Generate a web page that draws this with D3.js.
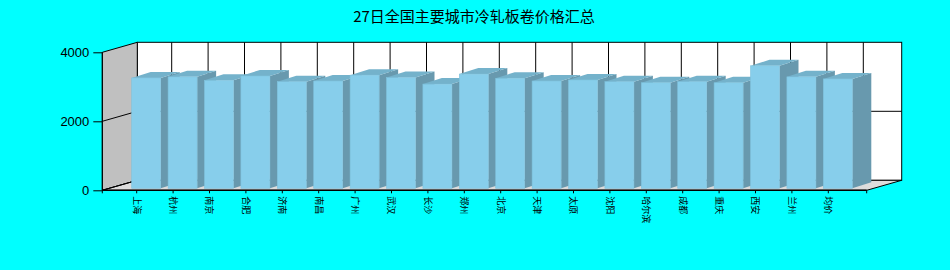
<!DOCTYPE html>
<html>
<head>
<meta charset="utf-8">
<script src="https://cdn.jsdelivr.net/npm/d3@7"></script>
<style>
  body { margin: 0; background: #00ffff; }
  svg { display: block; }
</style>
</head>
<body>
<svg id="chart" width="950" height="270"></svg>
<script>
// Chart data
var title = "27日全国主要城市冷轧板卷价格汇总";
var cities = ["上海", "杭州", "南京", "合肥", "济南", "南昌", "广州", "武汉", "长沙", "郑州",
  "北京", "天津", "太原", "沈阳", "哈尔滨", "成都", "重庆", "西安", "兰州", "均价"];
var prices = [3200, 3230, 3130, 3255, 3090, 3110, 3280, 3210, 3020, 3310,
  3190, 3110, 3140, 3090, 3060, 3090, 3060, 3550, 3230, 3170];
var yTicks = [0, 2000, 4000];

var svg = d3.select("#chart");

// Plot frame (front plane) and 3D depth offsets
var left = 102.3, right = 866.7;
var wallDx = 35, wallDy = -10;   // depth of walls
var barDx = 19, barDy = -6;      // depth of each bar
var barOffY = -2;                // bars sit a bit behind the front plane
var barW = 29;

var x = d3.scaleBand().domain(cities).range([118.5, 846.5]);
var y = d3.scaleLinear().domain([0, 4000]).range([190.3, 52.3]);

var y0 = y(0), yTop = y(4000);

// Title
svg.append("text")
  .attr("x", 474).attr("y", 22)
  .attr("text-anchor", "middle")
  .style("font-family", "'Noto Sans CJK SC', sans-serif")
  .style("font-size", "15px")
  .text(title);

// Back wall
svg.append("rect")
  .attr("x", left + wallDx).attr("y", yTop + wallDy)
  .attr("width", right - left).attr("height", y0 - yTop)
  .attr("fill", "#ffffff").attr("stroke", "#000").attr("stroke-width", 1);

// Left wall
svg.append("path")
  .attr("d", d3.line()([[left, yTop], [left + wallDx, yTop + wallDy],
    [left + wallDx, y0 + wallDy], [left, y0]]) + "Z")
  .attr("fill", "#c0c0c0").attr("stroke", "#000").attr("stroke-width", 1);

// Floor
svg.append("path")
  .attr("d", d3.line()([[left, y0], [left + wallDx, y0 + wallDy],
    [right + wallDx, y0 + wallDy], [right, y0]]) + "Z")
  .attr("fill", "#dcdcdc").attr("stroke", "#000").attr("stroke-width", 1);

// Gridlines on the walls
var grid = svg.append("g").attr("stroke", "#000").attr("stroke-width", 1);
yTicks.filter(d => d > 0 && d < 4000).forEach(function(t) {
  grid.append("line")
    .attr("x1", left + wallDx).attr("x2", right + wallDx)
    .attr("y1", y(t) + wallDy).attr("y2", y(t) + wallDy);
});
yTicks.filter(d => d < 4000).forEach(function(t) {
  grid.append("line")
    .attr("x1", left).attr("y1", y(t))
    .attr("x2", left + wallDx).attr("y2", y(t) + wallDy);
});
cities.forEach(function(c) {
  var cx = x(c) + x.bandwidth() / 2 + wallDx;
  grid.append("line")
    .attr("x1", cx).attr("x2", cx)
    .attr("y1", yTop + wallDy).attr("y2", y0 + wallDy);
});

// Bars, drawn left to right so each front face hides the previous side face
var bars = svg.append("g");
cities.forEach(function(c, i) {
  var bx = x(c) + x.bandwidth() / 2 - 5;
  var by = y(prices[i]) + barOffY;
  var bb = y0 + barOffY;
  var g = bars.append("g");
  // side face
  g.append("path")
    .attr("d", d3.line()([[bx + barW, by], [bx + barW + barDx, by + barDy],
      [bx + barW + barDx, bb + barDy], [bx + barW, bb]]) + "Z")
    .attr("fill", "#6899ae");
  // top face
  g.append("path")
    .attr("d", d3.line()([[bx, by], [bx + barDx, by + barDy],
      [bx + barW + barDx, by + barDy], [bx + barW, by]]) + "Z")
    .attr("fill", "#74b2cb");
  // front face
  g.append("rect")
    .attr("x", bx).attr("y", by)
    .attr("width", barW).attr("height", bb - by)
    .attr("fill", "#87ceeb")
    .attr("stroke", "#7fc2dc").attr("stroke-width", 0.6);
});

// Y axis
var yAxis = svg.append("g")
  .attr("transform", "translate(" + left + ",0)")
  .call(d3.axisLeft(y).tickValues(yTicks).tickSize(9).tickPadding(4).tickFormat(d3.format("d")));
yAxis.select(".domain").attr("d", "M0," + yTop + "V" + y0);
yAxis.selectAll("text")
  .style("font-family", "'Liberation Sans', Arial, sans-serif")
  .style("font-size", "13px")
  .attr("fill", "#000");

// X axis
svg.append("line")
  .attr("x1", left).attr("x2", right)
  .attr("y1", y0).attr("y2", y0)
  .attr("stroke", "#000").attr("stroke-width", 1.5);

var xAxis = svg.append("g")
  .attr("transform", "translate(0," + y0 + ")")
  .call(d3.axisBottom(x).tickSize(3).tickSizeOuter(0));
xAxis.select(".domain").remove();
xAxis.selectAll("text")
  .attr("transform", "translate(0,6) rotate(90)")
  .attr("x", 0).attr("y", 0).attr("dy", "0.35em")
  .attr("text-anchor", "start")
  .style("font-family", "'Noto Sans CJK SC', sans-serif")
  .style("font-size", "9px")
  .attr("fill", "#000");
// end ticks of the category axis
[left, right].forEach(function(t) {
  svg.append("line")
    .attr("x1", t).attr("x2", t).attr("y1", y0).attr("y2", y0 + 3)
    .attr("stroke", "#000");
});
</script>
</body>
</html>
